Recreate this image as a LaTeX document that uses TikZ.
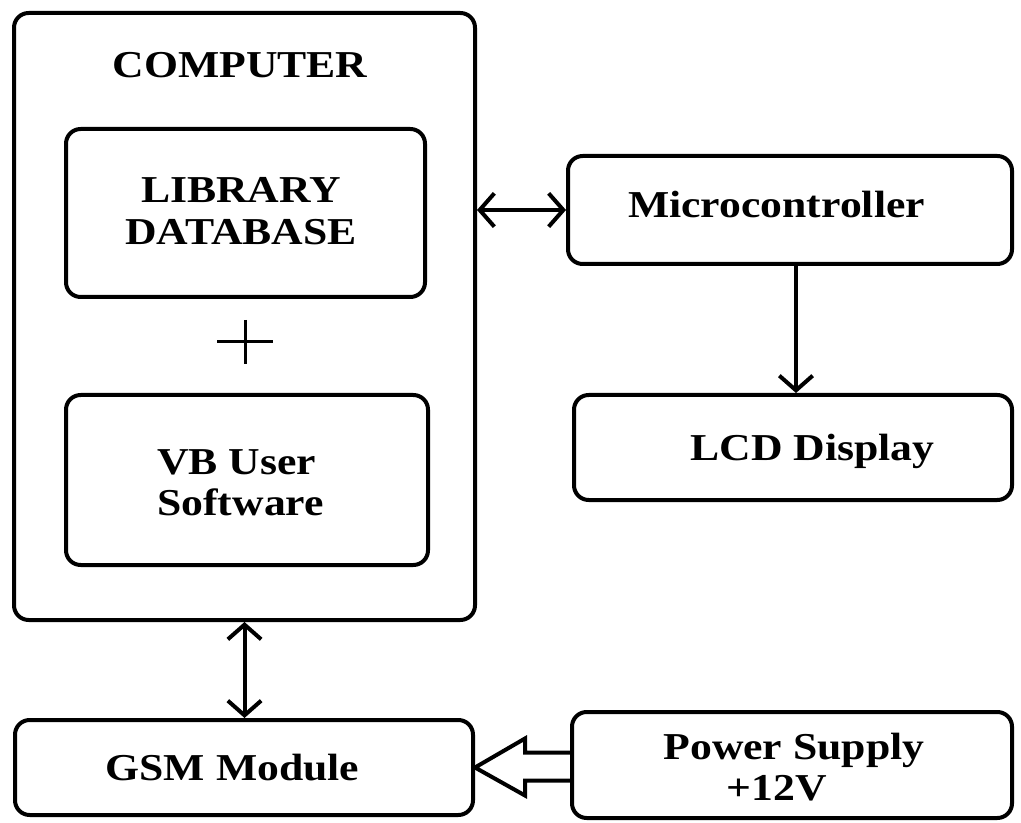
\documentclass[tikz,border=0pt]{standalone}
\usepackage{fontspec}
\setmainfont{Liberation Serif}[FakeStretch=1.15]
\usetikzlibrary{arrows.meta,calc}
\begin{document}
\begin{tikzpicture}[x=0.75pt,y=-0.75pt,
  box/.style={draw, line width=3pt, rounded corners=11pt, inner sep=0pt},
  lbl/.style={font=\bfseries\fontsize{28.5}{31}\selectfont, inner sep=0pt},
  conn/.style={line width=3pt},
  >={Straight Barb[length=11pt,width=25pt]}]
\useasboundingbox (0,0) rectangle (1021,823);
% boxes
\node[box, minimum width=461*0.75pt, minimum height=607*0.75pt] (comp) at (244.5,316.5) {};
\node[box, minimum width=359*0.75pt, minimum height=168*0.75pt] (lib) at (245.5,213) {};
\node[box, minimum width=362*0.75pt, minimum height=170*0.75pt] (vb) at (247,480) {};
\node[box, minimum width=444*0.75pt, minimum height=108*0.75pt] (micro) at (790,210) {};
\node[box, minimum width=438*0.75pt, minimum height=105*0.75pt] (lcd) at (793,447.5) {};
\node[box, minimum width=458*0.75pt, minimum height=95*0.75pt] (gsm) at (244,767.5) {};
\node[box, minimum width=440*0.75pt, minimum height=106*0.75pt] (power) at (792,765) {};
% texts
\node[lbl, anchor=base] (tcomp) at (240,78) {COMPUTER};
\node[lbl, align=center] (tlib) at (241,211) {LIBRARY\\DATABASE};
\node[lbl, align=left, anchor=west] (tvb) at (157,482.5) {VB User\\Software};
\node[lbl, anchor=base] (tmic) at (776.5,218) {Microcontroller};
\node[lbl, anchor=base] (tlcd) at (812.5,460) {LCD Display};
\node[lbl, anchor=base] (tgsm) at (232.5,780) {GSM Module};
\node[lbl, align=center] (tpow) at (794,767) {Power Supply\\+12V\hspace*{25.5pt}};
% plus sign
\draw[line width=2.25pt] (217,342) -- (273,342) (245,320) -- (245,364);
% connectors
\draw[conn, <->] (comp.east |- micro.west) -- (micro.west);
\draw[conn, ->] (micro.south -| 796,0) -- (lcd.north -| 796,0);
\draw[conn, <->] (comp.south) -- (comp.south |- gsm.north);
% hollow arrow
\path ($(gsm.east)+(50,-15)$) coordinate (st) ($(gsm.east)+(50,13)$) coordinate (sb);
\draw[conn, line join=miter] (power.west |- st) -- (st) -- ($(gsm.east)+(50,-29)$) -- (gsm.east) -- ($(gsm.east)+(50,28)$) -- (sb) -- (power.west |- sb);
\end{tikzpicture}
\end{document}
